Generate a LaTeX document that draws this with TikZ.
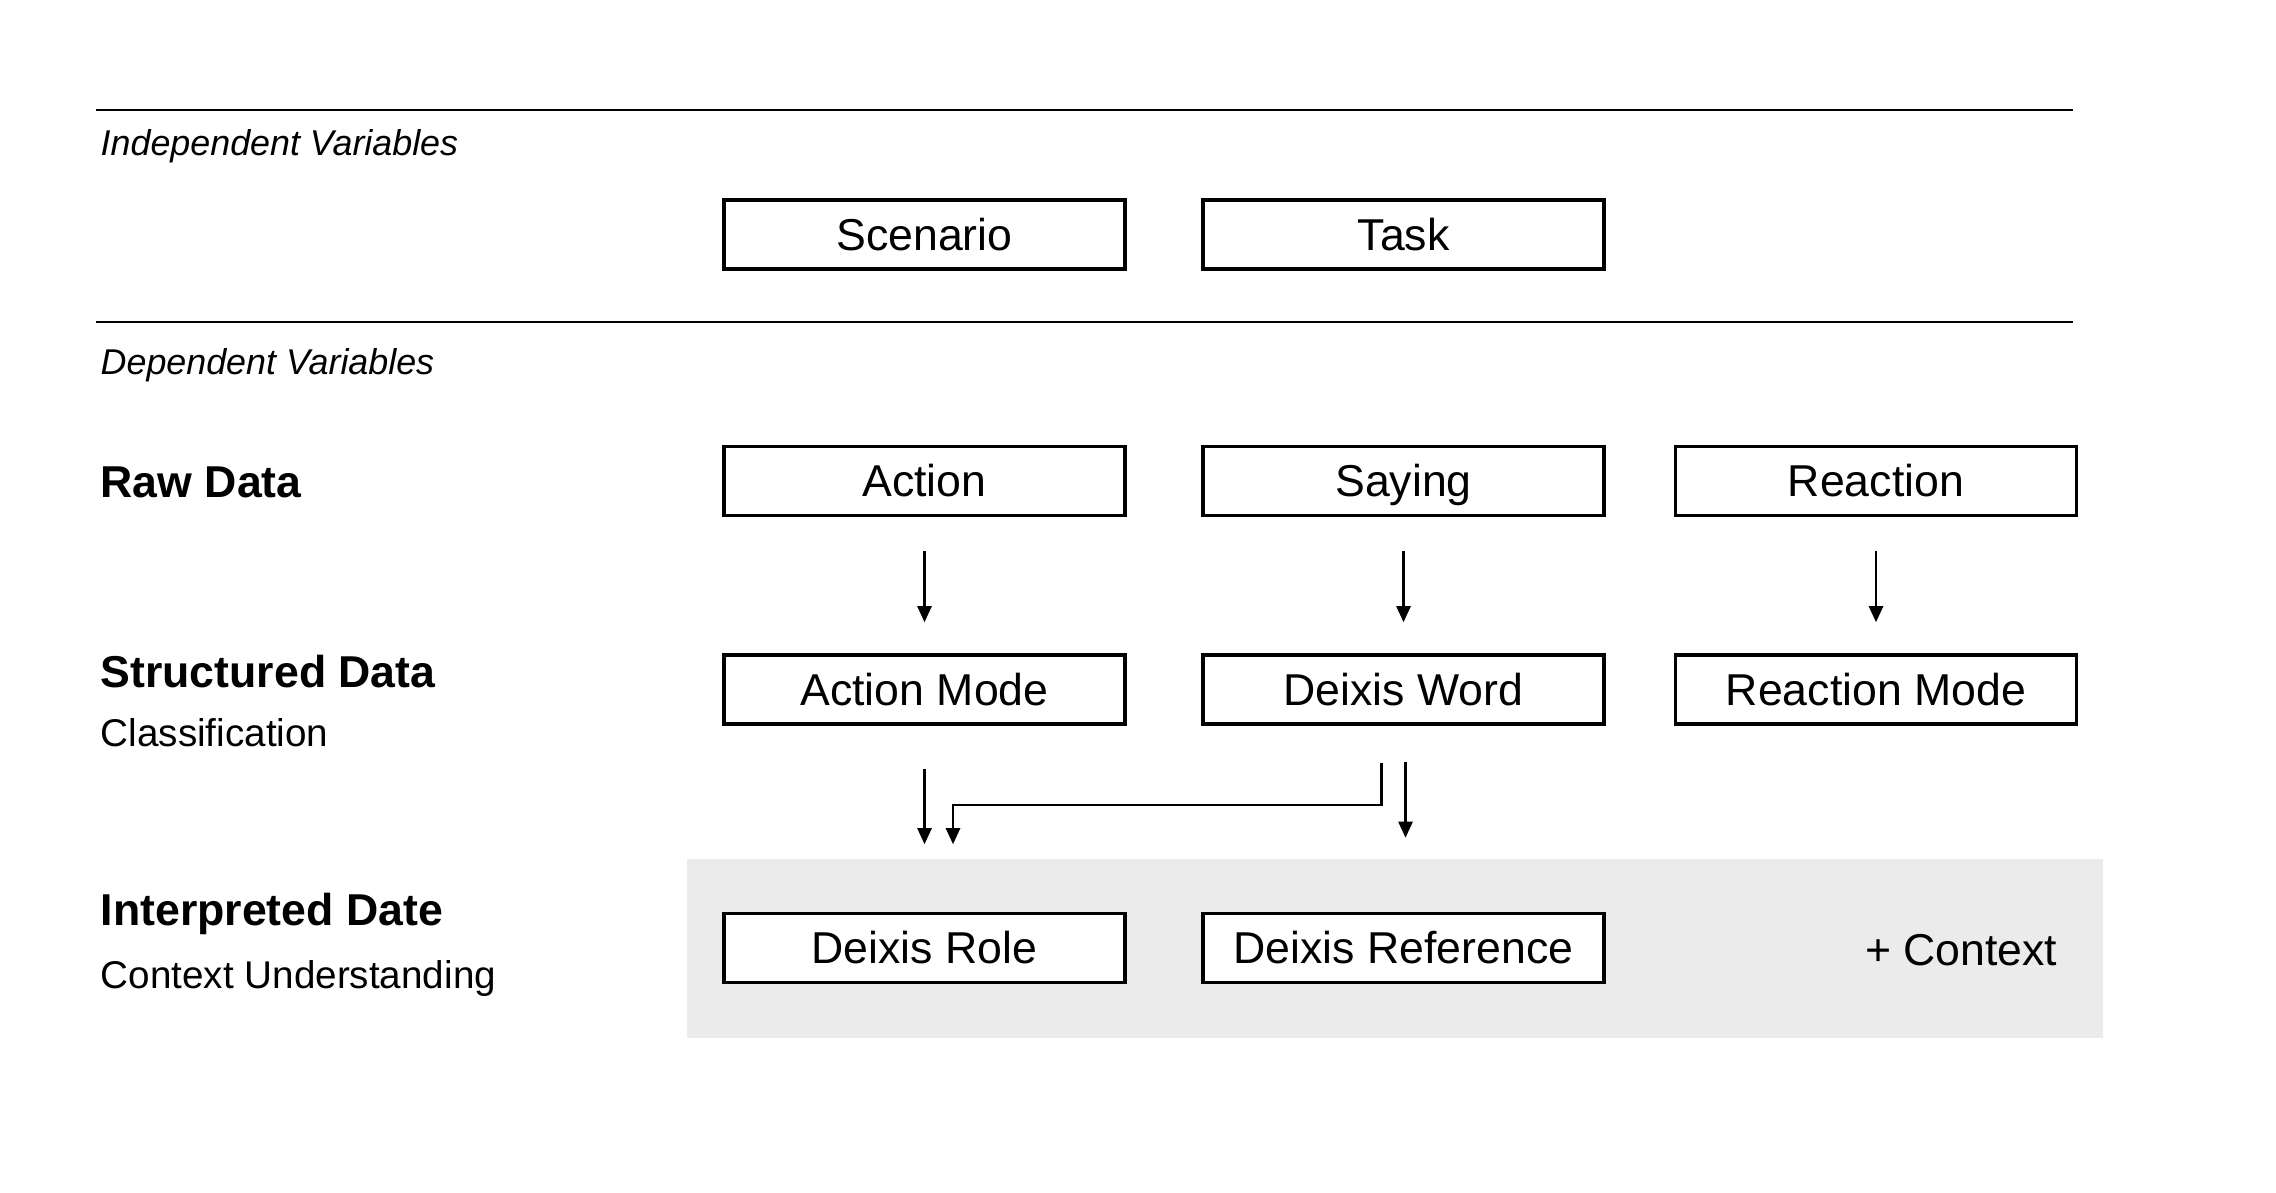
\documentclass[tikz,border=0pt]{standalone}
\usepackage{fontspec}
\setmainfont{Liberation Sans}
\usetikzlibrary{arrows.meta}
\definecolor{panelgray}{HTML}{EBEBEB}
\tikzset{
	varbox/.style={draw, fill=white, line width=1pt, minimum width=4.01cm, minimum height=0.69cm,
		inner sep=0pt, text height=9.1pt, text depth=0pt, font=\fontsize{12.7}{15}\selectfont},
	flow/.style={-{Triangle[width=0.14cm,length=0.16cm]}, line width=0.7pt},
	rowlabel/.style={anchor=base west, inner sep=0pt, font=\fontsize{12.7}{15}\selectfont\bfseries},
	sublabel/.style={anchor=base west, inner sep=0pt, font=\fontsize{11}{13}\selectfont},
	seclabel/.style={anchor=base west, inner sep=0pt, font=\fontsize{10.2}{12}\selectfont\itshape},
	rule/.style={line width=0.57pt}
}
\begin{document}
\begin{tikzpicture}
			\useasboundingbox (0,0) rectangle (22.76,11.92);
			% context panel
			\fill[panelgray] (6.87,1.54) rectangle (21.03,3.33);
			% section rules
			\draw[rule] (0.96,10.82)--(20.73,10.82);
			\draw[rule] (0.96,8.70)--(20.73,8.70);
			\node[seclabel] (indep) at (1.00,10.36) {Independent Variables};
			\node[seclabel] (dep) at (1.00,8.17) {Dependent Variables};
			% row labels
			\node[rowlabel] (rawlbl) at (1.00,6.94) {Raw Data};
			\node[rowlabel] (structlbl) at (1.00,5.05) {Structured Data};
			\node[sublabel] (classlbl) at (1.00,4.46) {Classification};
			\node[rowlabel] (interplbl) at (1.00,2.67) {Interpreted Date};
			\node[sublabel] (ctxlbl) at (1.00,2.04) {Context Understanding};
			% boxes
			\node[varbox] (scenario) at (9.245,9.575) {Scenario};
			\node[varbox] (task) at (14.035,9.575) {Task};
			\node[varbox] (action) at (9.245,7.11) {Action};
			\node[varbox] (saying) at (14.035,7.11) {Saying};
			\node[varbox] (reaction) at (18.76,7.11) {Reaction};
			\node[varbox] (actmode) at (9.245,5.025) {Action Mode};
			\node[varbox] (word) at (14.035,5.025) {Deixis Word};
			\node[varbox] (reactmode) at (18.76,5.025) {Reaction Mode};
			\node[varbox] (role) at (9.245,2.44) {Deixis Role};
			\node[varbox] (reference) at (14.035,2.44) {Deixis Reference};
			\node[anchor=base east, inner sep=0pt, font=\fontsize{12.7}{15}\selectfont] (context) at (20.58,2.27) {+ Context};
			% arrows
			\draw[flow, shorten <=0.335cm, shorten >=0.31cm] (action)--(actmode);
			\draw[flow, shorten <=0.335cm, shorten >=0.31cm] (saying)--(word);
			\draw[flow, shorten <=0.335cm, shorten >=0.31cm] (reaction)--(reactmode);
			\draw[flow, shorten <=0.435cm, shorten >=0.675cm] (actmode)--(role);
			\draw[flow] ([xshift=-0.22cm,yshift=-0.37cm]word.south) -- ++(0,-0.42) -| ([xshift=0.285cm,yshift=0.675cm]role.north);
			\draw[flow] ([xshift=0.02cm,yshift=-0.36cm]word.south)--([xshift=0.02cm,yshift=0.74cm]reference.north);
		\end{tikzpicture}
\end{document}
